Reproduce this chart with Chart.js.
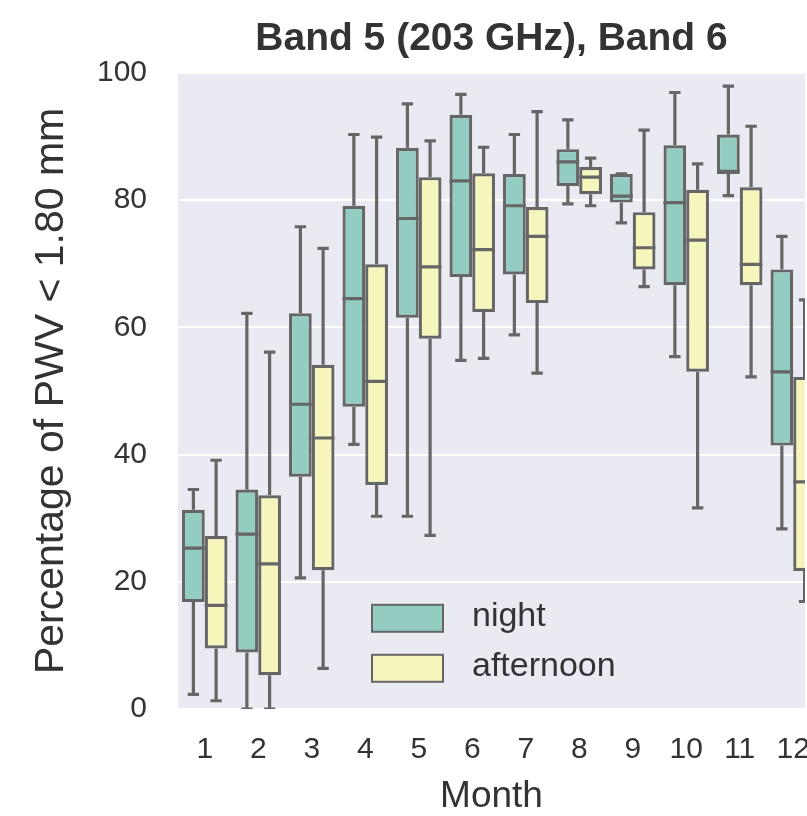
<!DOCTYPE html>
<html lang="en">
<head>
<meta charset="UTF-8">
<title>Band 5 (203 GHz), Band 6</title>
<script src="https://cdn.jsdelivr.net/npm/chart.js"></script>
<style>
    html, body { margin: 0; padding: 0; background: #fff; overflow: hidden; }
    .grafico { position: relative; width: 807px; height: 816px; }
</style>
</head>
<body>
<div class="grafico">
    <canvas id="graficoPWV"></canvas>
</div>

<script>
    // valores (percentual de PWV < 1.80 mm por mes)
    const meses = [1, 2, 3, 4, 5, 6, 7, 8, 9, 10, 11, 12];

    const noiteMin = [2.3, 0, 20.6, 41.6, 30.3, 54.8, 58.8, 79.4, 76.4, 55.4, 80.7, 28.3];
    const noiteQ1 = [16.8, 8.9, 36.5, 47.5, 61.5, 67.9, 68.3, 82.2, 79.6, 66.6, 84.1, 41.4];
    const noiteMediana = [25.3, 27.5, 47.9, 64.5, 77.1, 83.0, 79.1, 86.0, 80.6, 79.6, 84.5, 53.0];
    const noiteQ3 = [31.3, 34.5, 62.2, 79.1, 88.2, 93.4, 84.1, 88.0, 84.1, 88.6, 90.3, 69.1];
    const noiteMax = [34.5, 62.2, 75.8, 90.3, 95.1, 96.6, 90.3, 92.6, 84.1, 96.9, 97.9, 74.3];

    const tardeMin = [1.3, 0, 6.4, 30.3, 27.3, 55.1, 52.8, 79.1, 66.4, 31.6, 52.2, 16.9];
    const tardeQ1 = [9.5, 5.3, 21.8, 35.2, 58.2, 62.4, 63.8, 80.9, 69.1, 53.0, 66.6, 21.7];
    const tardeMediana = [16.3, 22.8, 42.6, 51.5, 69.5, 72.2, 74.3, 83.6, 72.5, 73.7, 69.9, 35.7];
    const tardeQ3 = [27.2, 33.6, 54.1, 69.9, 83.6, 84.2, 78.9, 85.2, 78.1, 81.6, 82.0, 52.2];
    const tardeMax = [39.1, 56.1, 72.4, 89.9, 89.3, 88.3, 93.9, 86.6, 91.0, 85.7, 91.6, 64.3];

    const corNoite = '#93cdc2';
    const corTarde = '#f6f6bc';
    const corBorda = '#666666';
    const corTexto = '#333333';
    const fonte = "'Liberation Sans', Arial, sans-serif";

    // fundo cinza da area do grafico + bigodes e medianas do boxplot
    const boxplot = {
        id: 'boxplot',
        beforeDraw(chart) {
            const a = chart.chartArea;
            const ctx = chart.ctx;
            ctx.save();
            ctx.fillStyle = '#eaeaf2';
            ctx.fillRect(a.left, a.top, a.right - a.left, a.bottom - a.top);
            ctx.restore();
        },
        afterDatasetsDraw(chart) {
            const a = chart.chartArea;
            const ctx = chart.ctx;
            const y = chart.scales.y;
            ctx.save();
            ctx.beginPath();
            ctx.rect(a.left, a.top, a.right - a.left, a.bottom - a.top);
            ctx.clip();
            ctx.strokeStyle = corBorda;
            ctx.lineWidth = 3.2;
            chart.data.datasets.forEach((ds, d) => {
                chart.getDatasetMeta(d).data.forEach((barra, i) => {
                    const x = barra.x;
                    const w = barra.width;
                    const yMin = y.getPixelForValue(ds.minimo[i]);
                    const yQ1 = y.getPixelForValue(ds.data[i].y[0]);
                    const yQ3 = y.getPixelForValue(ds.data[i].y[1]);
                    const yMax = y.getPixelForValue(ds.maximo[i]);
                    const yMed = y.getPixelForValue(ds.mediana[i]);

                    ctx.beginPath();
                    ctx.moveTo(x, yQ3);
                    ctx.lineTo(x, yMax);
                    ctx.moveTo(x - w / 4, yMax);
                    ctx.lineTo(x + w / 4, yMax);
                    ctx.moveTo(x, yQ1);
                    ctx.lineTo(x, yMin);
                    ctx.moveTo(x - w / 4, yMin);
                    ctx.lineTo(x + w / 4, yMin);
                    ctx.moveTo(x - w / 2, yMed);
                    ctx.lineTo(x + w / 2, yMed);
                    ctx.stroke();
                });
            });
            ctx.restore();
        },
        afterDraw(chart) {
            // legenda dentro da area do grafico
            const a = chart.chartArea;
            const ctx = chart.ctx;
            ctx.save();
            chart.data.datasets.forEach((ds, d) => {
                const px = a.left + 194;
                const py = a.top + 532 + d * 50;
                ctx.fillStyle = ds.backgroundColor;
                ctx.fillRect(px, py, 71, 27);
                ctx.strokeStyle = corBorda;
                ctx.lineWidth = 2;
                ctx.strokeRect(px, py, 71, 27);
                ctx.fillStyle = corTexto;
                ctx.font = '34px ' + fonte;
                ctx.textBaseline = 'middle';
                ctx.fillText(ds.label, a.left + 294, py + 12);
            });
            ctx.restore();
        }
    };

    const ctx = document.getElementById('graficoPWV').getContext('2d');
    new Chart(ctx, {
        type: 'bar',
        data: {
            datasets: [{
                label: 'night',
                data: meses.map((m, i) => ({ x: m, y: [noiteQ1[i], noiteQ3[i]] })),
                minimo: noiteMin,
                mediana: noiteMediana,
                maximo: noiteMax,
                backgroundColor: corNoite,
                borderColor: corBorda,
                borderWidth: 3.2,
                borderSkipped: false
            }, {
                label: 'afternoon',
                data: meses.map((m, i) => ({ x: m, y: [tardeQ1[i], tardeQ3[i]] })),
                minimo: tardeMin,
                mediana: tardeMediana,
                maximo: tardeMax,
                backgroundColor: corTarde,
                borderColor: corBorda,
                borderWidth: 3.2,
                borderSkipped: false
            }]
        },
        options: {
            responsive: true,
            maintainAspectRatio: false,
            animation: false,
            categoryPercentage: 0.85,
            barPercentage: 1,
            layout: { padding: { left: 0, right: 2, top: 0, bottom: 0 } },
            plugins: {
                legend: { display: false },
                tooltip: { enabled: false },
                title: {
                    display: true,
                    text: 'Band 5 (203 GHz), Band 6',
                    fullSize: false,
                    color: corTexto,
                    font: { family: fonte, size: 39, weight: 'bold' },
                    padding: { top: 16, bottom: 10 }
                }
            },
            scales: {
                x: {
                    type: 'linear',
                    // o original e cortado na direita: o eixo termina antes do fim do mes 12
                    min: 0.5,
                    max: 12.22,
                    offset: false,
                    grid: { display: false, drawTicks: false },
                    border: { display: false },
                    afterBuildTicks(s) { s.ticks = meses.map(m => ({ value: m })); },
                    ticks: { color: corTexto, padding: 23, font: { family: fonte, size: 30 }, callback: v => String(v) },
                    title: {
                        display: true,
                        text: 'Month',
                        color: corTexto,
                        font: { family: fonte, size: 37, lineHeight: 1 },
                        padding: { top: 0, bottom: 1 }
                    },
                    afterFit(s) {
                        s.height = 107;
                        s.paddingLeft = 0;
                        s.paddingRight = 0;
                    }
                },
                y: {
                    min: 0,
                    max: 100,
                    grid: { color: '#ffffff', lineWidth: 2, drawTicks: false },
                    border: { display: false },
                    ticks: { stepSize: 20, color: corTexto, padding: 31, font: { family: fonte, size: 30 } },
                    title: {
                        display: true,
                        text: 'Percentage of PWV < 1.80 mm',
                        color: corTexto,
                        font: { family: fonte, size: 41 },
                        padding: { top: 27, bottom: 0 }
                    },
                    afterFit(s) { s.width = 178; }
                }
            }
        },
        plugins: [boxplot]
    });
</script>
</body>
</html>
